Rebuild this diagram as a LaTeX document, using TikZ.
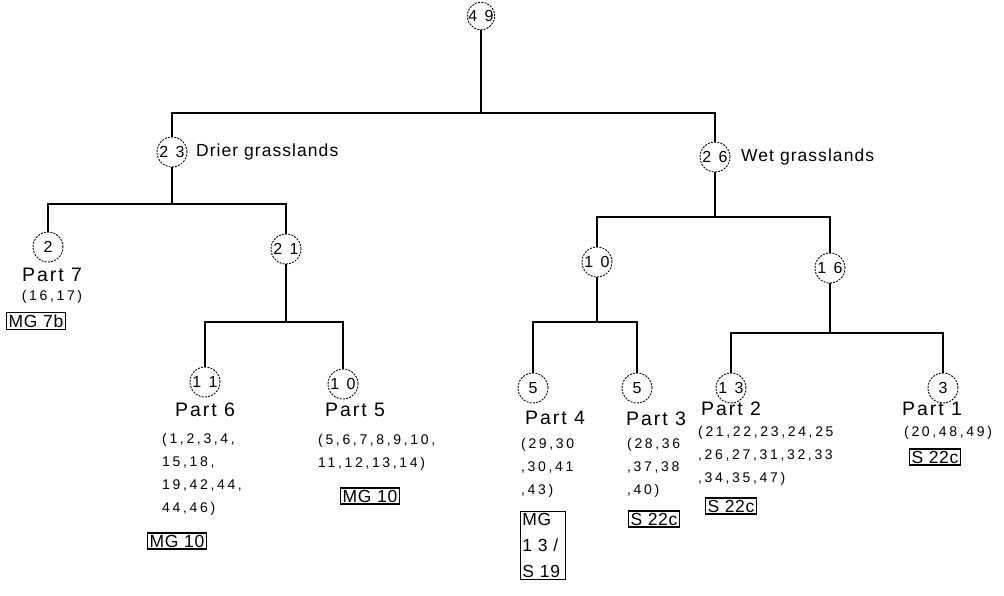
\documentclass[tikz,border=0pt]{standalone}
\usepackage{fontspec}
\setmainfont{Liberation Sans}
\newfontfamily\numfam[LetterSpace=18]{Liberation Sans}
\newfontfamily\lstfam[LetterSpace=19]{Liberation Sans}
\newfontfamily\partfam[LetterSpace=10]{Liberation Sans}
\newfontfamily\grpfam[LetterSpace=6]{Liberation Sans}
\newfontfamily\tagfam[LetterSpace=4]{Liberation Sans}
\newcommand\numfnt{\numfam\fontsize{16}{18}\selectfont}
\newcommand\lstfnt{\lstfam\fontsize{14}{23}\selectfont}
\newcommand\partfnt{\partfam\fontsize{19.5}{22}\selectfont}
\newcommand\grpfnt{\grpfam\fontsize{17.5}{20}\selectfont}
\newcommand\tagfnt{\tagfam\fontsize{17.5}{26}\selectfont}
\begin{document}
\begin{tikzpicture}[x=1pt,y=-1pt,
  num/.style={circle, draw, dash pattern=on 2pt off 1.2pt, line width=0.9pt, minimum size=30pt, inner sep=0pt, font=\numfnt},
  lbl/.style={font=\partfnt, inner sep=0pt},
  grp/.style={font=\grpfnt, inner sep=0pt, anchor=west},
  lst/.style={font=\lstfnt, align=left, anchor=north west, inner sep=0pt},
  tag/.style={draw, line width=1.1pt, font=\tagfnt, inner sep=1.8pt, align=left},
  conn/.style={line width=1.7pt},
]
\useasboundingbox (0,0) rectangle (1004,595);
% circles
\node[num, minimum size=25pt] (n49) at (481,16) {4 9};
\node[num] (n23) at (172,152) {2 3};
\node[num] (n26) at (715,157) {2 6};
\node[num] (n2)  at (48,247) {2};
\node[num] (n21) at (286,249) {2 1};
\node[num] (n11) at (205,382) {1 1};
\node[num] (n10a) at (343,384) {1 0};
\node[num] (n10b) at (597,262) {1 0};
\node[num] (n16) at (830,268) {1 6};
\node[num] (n5a) at (533,388) {5};
\node[num] (n5b) at (637,388) {5};
\node[num] (n13) at (731,388) {1 3};
\node[num] (n3)  at (943,388) {3};
% group labels
\node[grp] (drier) at (196,152) {Drier grasslands};
\node[grp] (wet) at (741,157) {Wet grasslands};
% bars
\coordinate (b1) at (0,113);
\coordinate (b2) at (0,204);
\coordinate (b3) at (0,322);
\coordinate (b4) at (0,217);
\coordinate (b5) at (0,322);
\coordinate (b6) at (0,333);
\draw[conn] (n49.south) -- (n49.south |- b1);
\draw[conn] (n23.north) |- (n26.north |- b1) -- (n26.north);
\draw[conn] (n23.south) -- (n23.south |- b2);
\draw[conn] (n2.north) |- (n21.north |- b2) -- (n21.north);
\draw[conn] (n21.south) -- (n21.south |- b3);
\draw[conn] (n11.north) |- (n10a.north |- b3) -- (n10a.north);
\draw[conn] (n26.south) -- (n26.south |- b4);
\draw[conn] (n10b.north) |- (n16.north |- b4) -- (n16.north);
\draw[conn] (n10b.south) -- (n10b.south |- b5);
\draw[conn] (n5a.north) |- (n5b.north |- b5) -- (n5b.north);
\draw[conn] (n16.south) -- (n16.south |- b6);
\draw[conn] (n13.north) |- (n3.north |- b6) -- (n3.north);
% Part 7
\node[lbl] (p7) at (52,275) {Part 7};
\node[lst, anchor=north] (l7) at (52,290) {(16,17)};
\node[tag] (t7) at (36,321) {MG 7b};
% Part 6
\node[lbl] (p6) at (205,410) {Part 6};
\node[lst] (l6) at (162,433) {(1,2,3,4,\\15,18,\\19,42,44,\\44,46)};
\node[tag] (t6) at (177,541) {MG 10};
% Part 5
\node[lbl] (p5) at (355,410) {Part 5};
\node[lst] (l5) at (318,434) {(5,6,7,8,9,10,\\11,12,13,14)};
\node[tag] (t5) at (370,496) {MG 10};
% Part 4
\node[lbl] (p4) at (555,418) {Part 4};
\node[lst] (l4) at (521,438) {(29,30\\,30,41\\,43)};
\node[tag, anchor=north west, text width=41pt] (t4) at (520,511) {MG\\1 3 /\\S 19};
% Part 3
\node[lbl] (p3) at (656,419) {Part 3};
\node[lst] (l3) at (627,438) {(28,36\\,37,38\\,40)};
\node[tag] (t3) at (654,519) {S 22c};
% Part 2
\node[lbl] (p2) at (731,409) {Part 2};
\node[lst] (l2) at (698,426) {(21,22,23,24,25\\,26,27,31,32,33\\,34,35,47)};
\node[tag] (t2) at (731,506) {S 22c};
% Part 1
\node[lbl] (p1) at (932,409) {Part 1};
\node[lst] (l1) at (904,426) {(20,48,49)};
\node[tag] (t1) at (935,457) {S 22c};
\end{tikzpicture}
\end{document}
